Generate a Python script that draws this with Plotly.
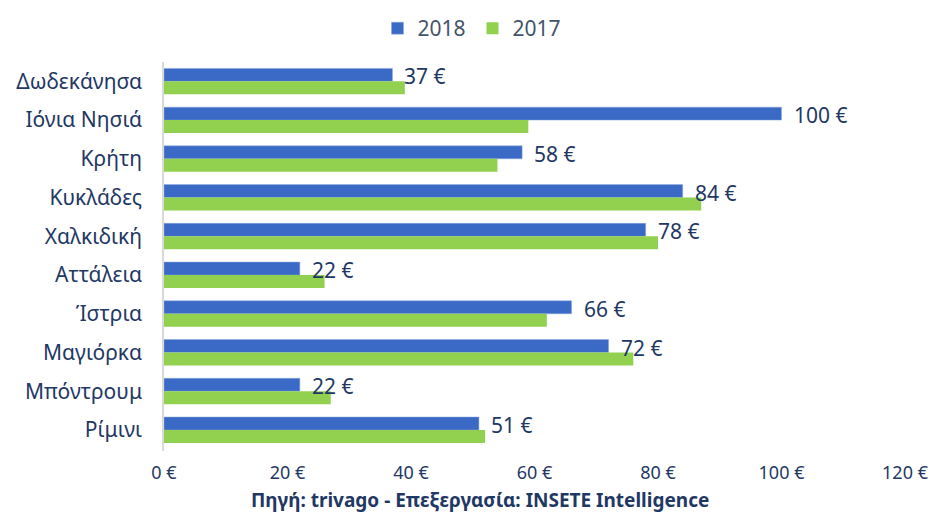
import plotly.graph_objects as go

categories = ["Δωδεκάνησα", "Ιόνια Νησιά", "Κρήτη", "Κυκλάδες", "Χαλκιδική",
              "Αττάλεια", "Ίστρια", "Μαγιόρκα", "Μπόντρουμ", "Ρίμινι"]
values_2018 = [37, 100, 58, 84, 78, 22, 66, 72, 22, 51]
values_2017 = [39, 59, 54, 87, 80, 26, 62, 76, 27, 52]
tick_values = [0, 20, 40, 60, 80, 100, 120]
tick_labels = ["0 €", "20 €", "40 €", "60 €", "80 €", "100 €", "120 €"]
source_text = "<b>Πηγή: trivago - Επεξεργασία: INSETE Intelligence</b>"

FONT = "Noto Sans"
NAVY = "#1F3864"

fig = go.Figure()
fig.add_trace(go.Bar(
    y=categories, x=values_2018, name="2018", orientation="h",
    marker=dict(color="#3A69C6", line=dict(color="#8FAADC", width=0.5)),
))
fig.add_trace(go.Bar(
    y=categories, x=values_2017, name="2017", orientation="h",
    marker=dict(color="#92D050", line=dict(width=0)),
))

for c, v in zip(categories, values_2018):
    fig.add_annotation(x=v, y=c, text=f"{v} €", showarrow=False,
                       xanchor="left", yanchor="middle", xshift=10, yshift=5,
                       font=dict(family=FONT, size=21, color=NAVY))

fig.add_annotation(xref="paper", yref="paper", x=0.427, y=-0.164,
                   xanchor="center", yanchor="bottom", showarrow=False,
                   text=source_text, font=dict(family=FONT, size=19, color=NAVY))

fig.update_layout(
    width=929, height=507,
    margin=dict(l=156, r=32, t=54, b=64, autoexpand=False),
    paper_bgcolor="white", plot_bgcolor="white",
    barmode="group", bargap=0.33, bargroupgap=0,
    font=dict(family=FONT, color=NAVY),
    legend=dict(orientation="h", x=0.5, xref="container", xanchor="center",
                y=1.0, yref="container", yanchor="top", traceorder="normal",
                entrywidth=50, entrywidthmode="pixels",
                font=dict(family=FONT, size=21, color="#44546A")),
    showlegend=True,
)
fig.update_yaxes(autorange="reversed", showline=True, linecolor="#D9D9D9", linewidth=1.5,
                 ticks="", showgrid=False, ticklabelstandoff=16, automargin=False,
                 tickfont=dict(family=FONT, size=21, color=NAVY))
fig.update_xaxes(range=[0, 120], tickvals=tick_values, ticktext=tick_labels,
                 showgrid=False, zeroline=False, showline=False, ticks="",
                 automargin=False, ticklabelstandoff=9,
                 tickfont=dict(family=FONT, size=18, color=NAVY))

fig.write_html("out.html")
